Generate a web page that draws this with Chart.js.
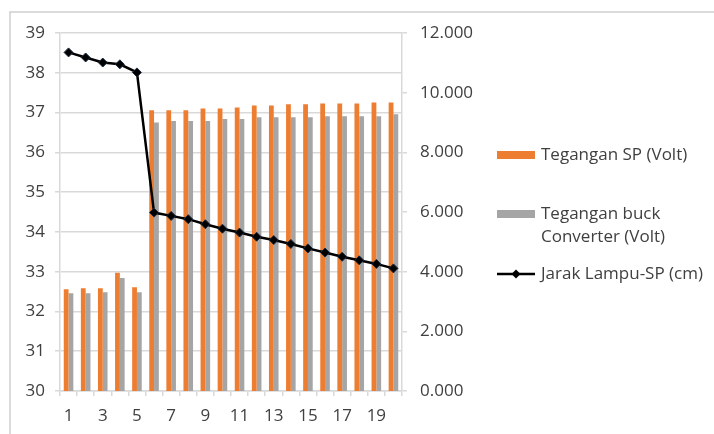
<!DOCTYPE html>
<html>
<head>
<meta charset="utf-8">
<script src="https://cdn.jsdelivr.net/npm/chart.js@4/dist/chart.umd.min.js"></script>
<style>
  html, body { margin: 0; padding: 0; background: #ffffff; }
  #wrap { width: 714px; height: 434px; position: relative; }
</style>
</head>
<body>
<div id="wrap"><canvas id="chart" width="714" height="434"></canvas></div>
<script>
// Measurement index (x axis)
const categories = ['1','2','3','4','5','6','7','8','9','10','11','12','13','14','15','16','17','18','19','20'];

// Solar panel voltage (Volt), left axis
const teganganSP = [32.56, 32.58, 32.58, 32.97, 32.61, 37.06, 37.06, 37.06, 37.10, 37.10,
                    37.13, 37.18, 37.18, 37.21, 37.21, 37.23, 37.23, 37.23, 37.25, 37.25];

// Buck converter voltage (Volt), left axis
const teganganBuck = [32.46, 32.46, 32.48, 32.84, 32.48, 36.75, 36.79, 36.79, 36.79, 36.84,
                      36.84, 36.88, 36.88, 36.88, 36.88, 36.91, 36.91, 36.91, 36.91, 36.96];

// Lamp to solar panel distance (cm), right axis
const jarakLampu = [11.35, 11.18, 11.01, 10.95, 10.68, 5.98, 5.87, 5.76, 5.59, 5.44,
                    5.31, 5.17, 5.06, 4.93, 4.78, 4.64, 4.50, 4.38, 4.26, 4.11];

// Axis ranges
const leftAxisRange = [30, 39];
const rightAxisRange = [0, 12];

const seriesNames = ['Tegangan SP (Volt)', ['Tegangan buck', 'Converter (Volt)'], 'Jarak Lampu-SP (cm)'];

const ORANGE = '#ED7D31';
const GREY = '#A5A5A5';
const TEXT = '#404040';
const GRID = '#d9d9d9';
const FONT = { family: '"Open Sans", Lato, sans-serif', size: 17 };

// Frame lines along the top and left edges of the image
const framePlugin = {
  id: 'frame',
  beforeDraw(chart) {
    const ctx = chart.ctx;
    ctx.save();
    ctx.strokeStyle = '#cfcfcf';
    ctx.lineWidth = 1.5;
    ctx.beginPath();
    ctx.moveTo(10, chart.height);
    ctx.lineTo(10, 12);
    ctx.lineTo(chart.width, 12);
    ctx.stroke();
    ctx.restore();
  }
};

// Legend drawn to the right of the plot
const sideLegend = {
  id: 'sideLegend',
  afterDraw(chart) {
    const ctx = chart.ctx;
    const area = chart.chartArea;
    const x = area.right + 95;
    const textX = x + 44;
    ctx.save();
    ctx.font = FONT.size + 'px ' + FONT.family;
    ctx.fillStyle = TEXT;
    ctx.textBaseline = 'middle';
    ctx.textAlign = 'left';

    // bar series swatches
    const y1 = area.top + 122;
    ctx.fillStyle = ORANGE;
    ctx.fillRect(x, y1 - 4, 38, 8);
    ctx.fillStyle = TEXT;
    ctx.fillText(seriesNames[0], textX, y1);

    const y2 = area.top + 181;
    ctx.fillStyle = GREY;
    ctx.fillRect(x, y2 - 4, 38, 8);
    ctx.fillStyle = TEXT;
    ctx.fillText(seriesNames[1][0], textX, y2);
    ctx.fillText(seriesNames[1][1], textX, y2 + 23);

    // line series sample with marker
    const y3 = area.top + 241;
    ctx.strokeStyle = '#000000';
    ctx.lineWidth = 2.5;
    ctx.beginPath();
    ctx.moveTo(x, y3);
    ctx.lineTo(x + 38, y3);
    ctx.stroke();
    ctx.fillStyle = '#000000';
    ctx.beginPath();
    ctx.moveTo(x + 19, y3 - 4.5);
    ctx.lineTo(x + 23.5, y3);
    ctx.lineTo(x + 19, y3 + 4.5);
    ctx.lineTo(x + 14.5, y3);
    ctx.closePath();
    ctx.fill();
    ctx.fillStyle = TEXT;
    ctx.fillText(seriesNames[2], textX, y3);
    ctx.restore();
  }
};

new Chart(document.getElementById('chart'), {
  data: {
    labels: categories,
    datasets: [
      {
        type: 'line',
        label: seriesNames[2],
        data: jarakLampu,
        yAxisID: 'y1',
        order: 0,
        borderColor: '#000000',
        borderWidth: 2.5,
        pointStyle: 'rectRot',
        pointRadius: 4.5,
        pointBackgroundColor: '#000000',
        pointBorderColor: '#1b2b44',
        pointBorderWidth: 1,
        tension: 0
      },
      {
        type: 'bar',
        label: seriesNames[0],
        data: teganganSP,
        yAxisID: 'y',
        order: 1,
        backgroundColor: ORANGE,
        borderWidth: 0,
        categoryPercentage: 0.56,
        barPercentage: 1.0
      },
      {
        type: 'bar',
        label: seriesNames[1].join(' '),
        data: teganganBuck,
        yAxisID: 'y',
        order: 1,
        backgroundColor: GREY,
        borderWidth: 0,
        categoryPercentage: 0.56,
        barPercentage: 1.0
      }
    ]
  },
  options: {
    responsive: false,
    animation: false,
    layout: { padding: { top: 33, right: 232, bottom: 0, left: 0 } },
    plugins: {
      legend: { display: false },
      tooltip: { enabled: false }
    },
    scales: {
      x: {
        type: 'category',
        offset: true,
        grid: { display: true, drawOnChartArea: false, offset: true, tickLength: 5, color: GRID, lineWidth: 1.5 },
        border: { color: GRID, width: 1.5 },
        ticks: {
          autoSkip: false,
          maxRotation: 0,
          color: TEXT,
          font: FONT,
          padding: 10,
          callback: (v, i) => (i % 2 === 0 ? categories[i] : '')
        },
        afterFit: s => { s.height = 43; }
      },
      y: {
        position: 'left',
        min: leftAxisRange[0],
        max: leftAxisRange[1],
        grid: { color: GRID, tickLength: 5, lineWidth: 1.5 },
        border: { color: GRID, width: 1.5 },
        ticks: { stepSize: 1, color: TEXT, font: FONT, padding: 10 },
        afterFit: s => { s.width = 60; }
      },
      y1: {
        position: 'right',
        min: rightAxisRange[0],
        max: rightAxisRange[1],
        grid: { drawOnChartArea: false, color: GRID, tickLength: 5, lineWidth: 1.5 },
        border: { color: GRID, width: 1.5 },
        ticks: {
          stepSize: 2,
          color: TEXT,
          font: FONT,
          padding: 13,
          callback: v => Number(v).toFixed(3)
        },
        afterFit: s => { s.width = 80; }
      }
    }
  },
  plugins: [framePlugin, sideLegend]
});
</script>
</body>
</html>
